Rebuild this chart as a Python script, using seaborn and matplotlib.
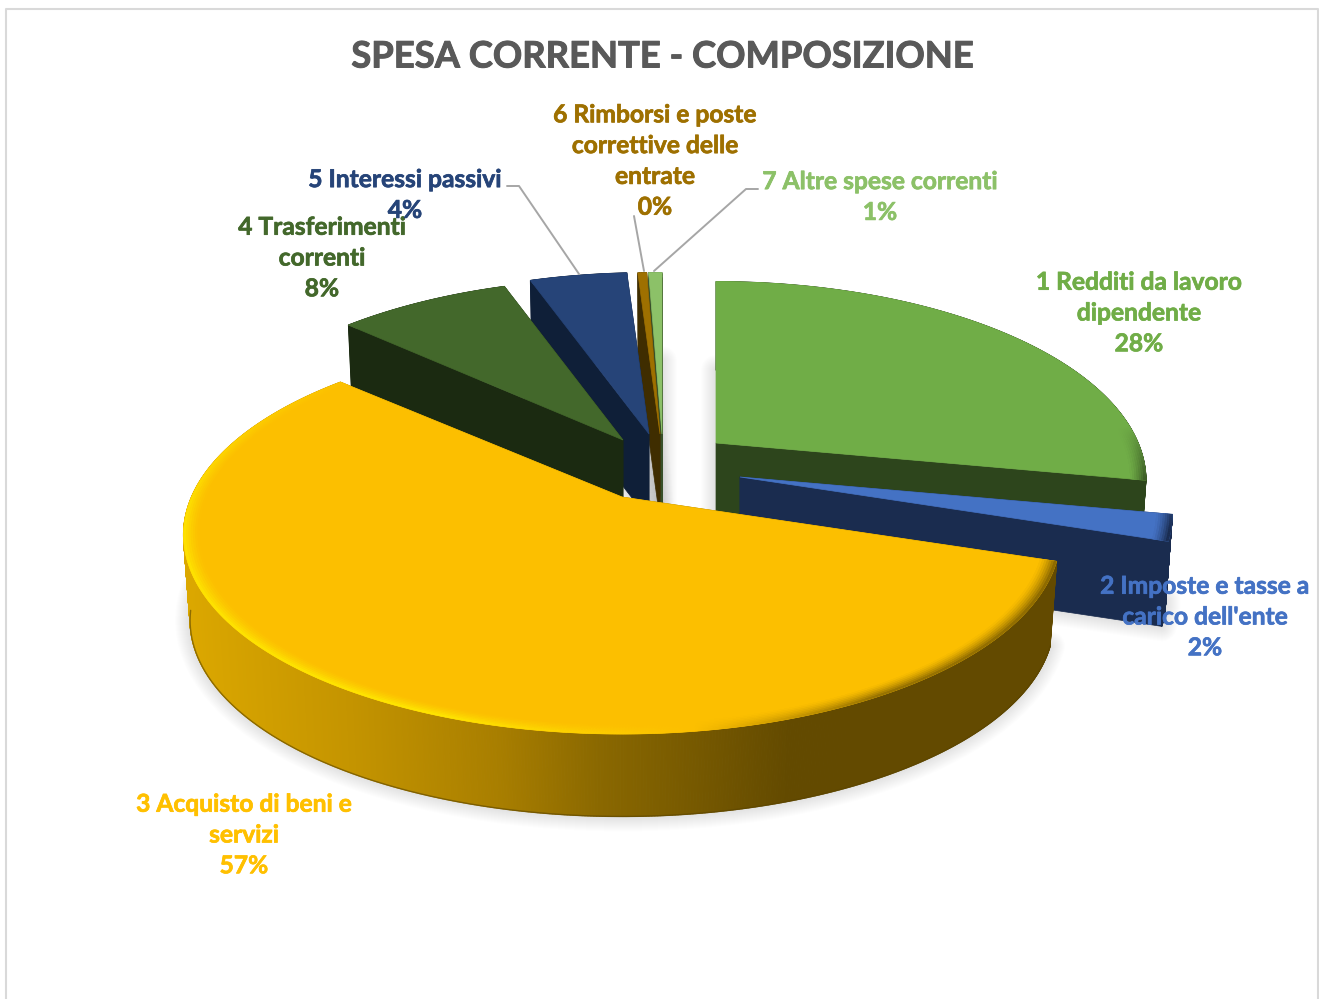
import seaborn as sns
import numpy as np
import matplotlib.pyplot as plt
import matplotlib.patheffects as pe
from matplotlib.patches import Polygon
from matplotlib.collections import PolyCollection
from matplotlib.colors import to_rgb

categories = ["1 Redditi da lavoro\ndipendente", "2 Imposte e tasse a\ncarico dell'ente",
              "3 Acquisto di beni e\nservizi", "4 Trasferimenti\ncorrenti",
              "5 Interessi passivi", "6 Rimborsi e poste\ncorrettive delle\nentrate",
              "7 Altre spese correnti"]
values = [28.0, 2.1, 56.7, 7.8, 4.4, 0.4, 0.6]
title = "SPESA CORRENTE - COMPOSIZIONE"

top_colors = ["#70ad47", "#4472c4", "#fcbf00", "#43682b", "#264478", "#9e7000", "#8cc168"]
wall_colors = ["#2d451c", "#1a2c4f", "#8a6800", "#1b2a11", "#0f1f38", "#3f2d00", "#38502a"]
text_colors = ["#70ad47", "#4472c4", "#ffc000", "#43682b", "#264478", "#9e7000", "#8cc168"]

# layout, in pixels of the picture
apex_x = [716, 740, 622, 623, 649, 660, 662]
apex_y = [443, 477, 497, 440, 434, 434, 434]
stretch = [1.005, 1.01, 1.025, 1.0, 1.0, 1.0, 1.0]
label_x = [1139, 1205, 244, 322, 405, 655, 880]
label_y = [313, 617, 835, 258, 195, 161, 197]
RX, RY, PERSP = 420, 192, 0.19
DEPTH = 86
draw_order = [6, 5, 4, 3, 0, 1, 2]


def project(i, r, ang, drop=0.0, shrink=1.0):
    rad = np.radians(ang)
    x, y = r * np.sin(rad), r * np.cos(rad)
    k = shrink / (1 + PERSP * y)
    return apex_x[i] + RX * stretch[i] * x * k, apex_y[i] - RY * y * k + drop


def mix(c1, c2, t):
    return tuple(np.array(to_rgb(c1)) * (1 - t) + np.array(to_rgb(c2)) * t)


def yellow_wall(x):
    stops = [180, 350, 500, 600, 790, 1060]
    cols = np.array([to_rgb(c) for c in ["#dca800", "#c49400", "#a87e00", "#8a6800", "#634a00", "#634a00"]])
    return tuple(np.interp(x, stops, cols[:, j]) for j in range(3))


def rim_weight(ang):
    return np.interp(ang, [0, 85, 105, 150, 172, 200, 262, 300, 320, 360],
                     [0, 0, -1, -0.9, 0, 1, 0.9, 0.25, 0, 0])


def draw_slice(ax, i, a1, a2):
    px, py = apex_x[i], apex_y[i]
    angs = np.linspace(a1, a2, max(int(a2 - a1) * 6, 6))
    top = np.c_[project(i, 1, angs)]
    top_poly = np.vstack([[px, py], top])

    # the two cut faces
    for a in (a1, a2):
        ex, ey = project(i, 1, a)
        bx, by = project(i, 1, a, DEPTH, 0.985)
        ax.add_patch(Polygon([[px, py], [ex, ey], [bx, by], [px, py + DEPTH]],
                             fc=wall_colors[i], ec=wall_colors[i], lw=0.5, zorder=5))

    # outer wall
    quads, cols = [], []
    for b1, b2 in zip(angs[:-1], angs[1:]):
        p1, p2 = project(i, 1, b1), project(i, 1, b2)
        p3, p4 = project(i, 1, b2, DEPTH, 0.985), project(i, 1, b1, DEPTH, 0.985)
        quads.append([p1, p2, p3, p4])
        cols.append(yellow_wall(p1[0]) if i == 2 else wall_colors[i])
    ax.add_collection(PolyCollection(quads, facecolors=cols, edgecolors=cols, linewidths=0.8, zorder=5))
    if i == 2:
        # darker seam only where the floor edge is the outline
        front = angs[angs < 262]
        bottom = np.c_[project(i, 1, front, DEPTH, 0.985)]
        ax.plot(bottom[:, 0], bottom[:, 1], color="#5a4400", lw=1.0, alpha=0.6, zorder=5)

    ax.add_patch(Polygon(top_poly, fc=top_colors[i], ec=top_colors[i], lw=0.5, zorder=5))

    # bevel along the rim
    rings = np.linspace(0.965, 1.0, 8)
    quads, cols = [], []
    for j, (r1, r2) in enumerate(zip(rings[:-1], rings[1:])):
        t = ((j + 1) / 7) ** 1.5
        for b1, b2 in zip(angs[:-1], angs[1:]):
            w = rim_weight(b1) * t
            if w >= 0:
                c = mix(top_colors[i], "#ffe600" if i == 2 else "#ffffff", w * (1 if i == 2 else 0.15))
            else:
                c = mix(top_colors[i], wall_colors[i], -w)
            quads.append([project(i, r1, b1), project(i, r1, b2),
                          project(i, r2, b2), project(i, r2, b1)])
            cols.append(c)
    ax.add_collection(PolyCollection(quads, facecolors=cols, edgecolors=cols, linewidths=0.3, zorder=5))


def draw_shadow(ax, i, a1, a2):
    angs = np.linspace(a1, a2, 80)
    sx, sy = project(i, 1, angs, 86, 0.985)
    pts = np.vstack([[apex_x[i], apex_y[i] + 86], np.c_[sx, sy]])
    for lw in range(30, 0, -2):
        ax.add_patch(Polygon(pts, fc="black", ec="black", alpha=0.009, lw=lw * 0.72,
                             joinstyle="round", zorder=2))


def create_chart():
    sns.set_theme(style="white")
    plt.rcParams["font.family"] = ["Lato", "DejaVu Sans"]

    fig = plt.figure(figsize=(13.19, 9.99), dpi=100)
    ax = fig.add_axes([0, 0, 1, 1])
    ax.set_xlim(0, 1319)
    ax.set_ylim(999, 0)
    ax.axis("off")

    # chart frame, no bottom edge in the picture
    ax.plot([6, 6, 1318, 1318], [999, 9, 9, 999], color="#d9d9d9", lw=1.5, zorder=1)

    edges = np.cumsum([0] + values) / np.sum(values) * 360
    for i in draw_order:
        draw_shadow(ax, i, edges[i], edges[i + 1])
    for i in draw_order:
        draw_slice(ax, i, edges[i], edges[i + 1])

    # leader lines
    leader = dict(color="#a6a6a6", lw=1.4, zorder=6)
    ax.plot([507, 519, 579], [186, 186, 274], **leader)
    ax.plot([634, 644], [216, 271], **leader)
    ax.plot([758, 746, 654], [189, 189, 271], **leader)

    for i, name in enumerate(categories):
        ax.text(label_x[i], label_y[i], f"{name}\n{values[i]:.0f}%", color=text_colors[i],
                ha="center", va="center", fontsize=17.7, fontweight="bold",
                linespacing=1.41, zorder=8,
                path_effects=[pe.withStroke(linewidth=0.5, foreground=text_colors[i])])

    ax.text(662, 57, title, color="#595959", ha="center", va="center",
            fontsize=26.2, fontweight="bold", zorder=8,
            path_effects=[pe.withStroke(linewidth=0.7, foreground="#595959")])

    fig.savefig("out.png", dpi=100)


if __name__ == '__main__':
    create_chart()
